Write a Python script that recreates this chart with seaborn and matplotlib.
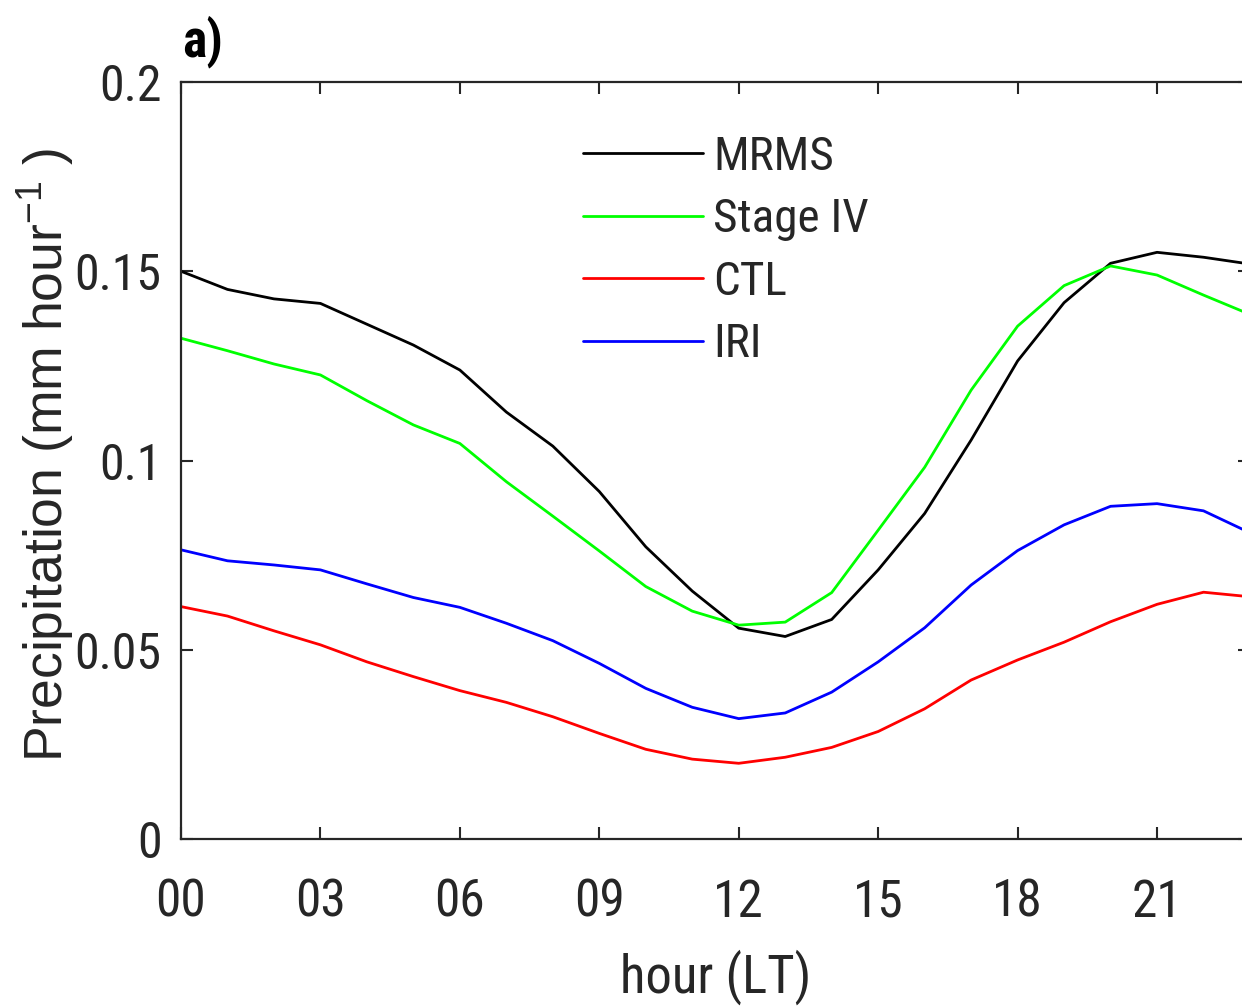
import pandas as pd
import matplotlib
matplotlib.use("Agg")
import matplotlib.pyplot as plt
from matplotlib import font_manager
import seaborn as sns

hours = list(range(24))
mrms = [0.150, 0.1452, 0.1427, 0.1415, 0.1360, 0.1305, 0.1239, 0.1128, 0.1038, 0.0918, 0.0772, 0.0655,
        0.0557, 0.0535, 0.0580, 0.0711, 0.0860, 0.1054, 0.1263, 0.1417, 0.1521, 0.1550, 0.1537, 0.1519]
stage4 = [0.1323, 0.1290, 0.1255, 0.1226, 0.1158, 0.1094, 0.1045, 0.0944, 0.0853, 0.0761, 0.0667, 0.0602,
          0.0565, 0.0573, 0.0651, 0.0816, 0.0982, 0.1186, 0.1355, 0.1462, 0.1514, 0.1490, 0.1437, 0.1386]
ctl = [0.0614, 0.0589, 0.0550, 0.0513, 0.0468, 0.0429, 0.0392, 0.0361, 0.0323, 0.0279, 0.0237, 0.0211,
       0.0200, 0.0216, 0.0242, 0.0284, 0.0344, 0.0420, 0.0473, 0.0520, 0.0574, 0.0620, 0.0652, 0.0640]
iri = [0.0764, 0.0735, 0.0724, 0.0711, 0.0674, 0.0638, 0.0612, 0.0570, 0.0524, 0.0464, 0.0398, 0.0348,
       0.0318, 0.0333, 0.0388, 0.0468, 0.0558, 0.0671, 0.0762, 0.0830, 0.0879, 0.0886, 0.0867, 0.0809]
names = ["MRMS", "Stage IV", "CTL", "IRI"]
colors = ["#000000", "#00ff00", "#ff0000", "#0000ff"]
xticks = list(range(0, 24, 3))
xticklabels = [f"{h:02d}" for h in xticks]
yticks = [0, 0.05, 0.1, 0.15, 0.2]
yticklabels = ["0", "0.05", "0.1", "0.15", "0.2"]

df = pd.DataFrame({"hour": hours * 4,
                   "precip": mrms + stage4 + ctl + iri,
                   "source": sum([[n] * 24 for n in names], [])})

sns.set_theme(style="ticks")
avail = {f.name for f in font_manager.fontManager.ttflist}
narrow = next((f for f in ["Roboto Condensed", "Archivo Narrow", "Liberation Sans"] if f in avail), "DejaVu Sans")
wide = "Liberation Sans" if "Liberation Sans" in avail else "DejaVu Sans"
plt.rcParams["font.family"] = [narrow, "DejaVu Sans"]
plt.rcParams["mathtext.default"] = "regular"
dark = "#262626"

fig = plt.figure(figsize=(12.42, 10.08), dpi=100)
ax = fig.add_axes([181 / 1242, 169 / 1008, 1069 / 1242, 757 / 1008])
sns.lineplot(data=df, x="hour", y="precip", hue="source", hue_order=names,
             palette=colors, linewidth=2.0, ax=ax)

ax.set_xlim(0, 23)
ax.set_ylim(0, 0.2)
ax.set_xticks(xticks)
ax.set_xticklabels(xticklabels)
ax.set_yticks(yticks)
ax.set_yticklabels(yticklabels)
ax.tick_params(direction="in", length=8.5, width=1.5, top=True, right=True,
               labelsize=37, colors=dark)
ax.tick_params(axis="x", pad=28)
ax.tick_params(axis="y", pad=14, labelsize=36)
for s in ax.spines.values():
    s.set_linewidth(1.6)
    s.set_color(dark)

ax.set_xlabel("hour (LT)", fontsize=38, color=dark)
ax.xaxis.set_label_coords(0.5005, -0.146)
ax.xaxis.label.set_va("top")
ax.set_ylabel("Precipitation (mm hour$^{-1}$ )", fontsize=38.5, color=dark, family=wide)
ax.yaxis.set_label_coords(-0.1265, 0.507)
ax.yaxis.label.set_va("center")
fig.text(182 / 1242, 1 - 56 / 1008, "a)", fontsize=37, fontweight="bold",
         ha="left", va="baseline", color="black")

ax.legend(loc="upper left", bbox_to_anchor=(0.376, 0.930), frameon=False,
          fontsize=34, handlelength=2.54, handletextpad=0.22, labelspacing=0.39,
          borderpad=0, borderaxespad=0, title=None)
for line in ax.get_legend().get_lines():
    line.set_linewidth(2.0)

fig.savefig("out.png", dpi=100)
